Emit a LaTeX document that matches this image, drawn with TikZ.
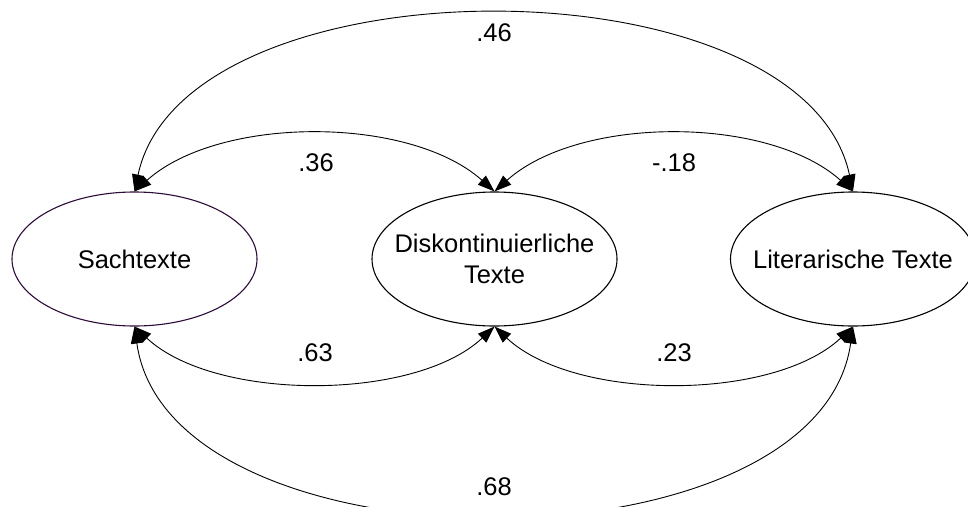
\documentclass[tikz,border=0pt]{standalone}
\usepackage{fontspec}
\setmainfont{Liberation Sans}
\usetikzlibrary{shapes.geometric,arrows.meta}
\definecolor{sachcol}{RGB}{46,12,58}
\begin{document}
\begin{tikzpicture}[x=1pt,y=-1pt,
  var/.style={ellipse,draw,line width=1.1pt,minimum width=245pt,minimum height=134pt,inner sep=0pt},
  vtext/.style={inner sep=0pt,align=center,font=\fontsize{25.5}{31}\selectfont},
  cov/.style={line width=0.9pt,{Triangle[length=17pt,width=12pt]}-{Triangle[length=17pt,width=12pt]}},
  lab/.style={font=\fontsize{25.5}{30}\selectfont,inner sep=0pt}]
\useasboundingbox (0,0) rectangle (968,506);
\begin{scope}
\clip (0,0) rectangle (968,506);
\fill[white] (0,0) rectangle (968,506);
\node[var,draw=sachcol,label={[vtext]center:Sachtexte}] (s) at (134.5,259) {};
\node[var,label={[vtext]center:Diskontinuierliche\\Texte}] (d) at (494.5,259) {};
\node[var,label={[vtext]center:Literarische Texte}] (l) at (853,259) {};
% top arcs
\draw[cov] (s.north) .. controls +(50,-235) and +(-50,-235) .. (l.north);
\draw[cov] (s.north) .. controls +(85,-76) and +(-85,-76) .. (d.north);
\draw[cov] (d.north) .. controls +(85,-76) and +(-85,-76) .. (l.north);
% bottom arcs
\draw[cov] (s.south) .. controls +(80,75) and +(-80,75) .. (d.south);
\draw[cov] (d.south) .. controls +(80,75) and +(-80,75) .. (l.south);
\draw[cov] (s.south) .. controls +(35,250) and +(-35,250) .. (l.south);
% labels
\node[lab] (t46) at (494,33) {.46};
\node[lab] (t36) at (316,163) {.36};
\node[lab] (t18) at (674,163) {-.18};
\node[lab] (t63) at (315,353) {.63};
\node[lab] (t23) at (674,353) {.23};
\node[lab] (t68) at (494,487) {.68};
\end{scope}
\end{tikzpicture}
\end{document}
